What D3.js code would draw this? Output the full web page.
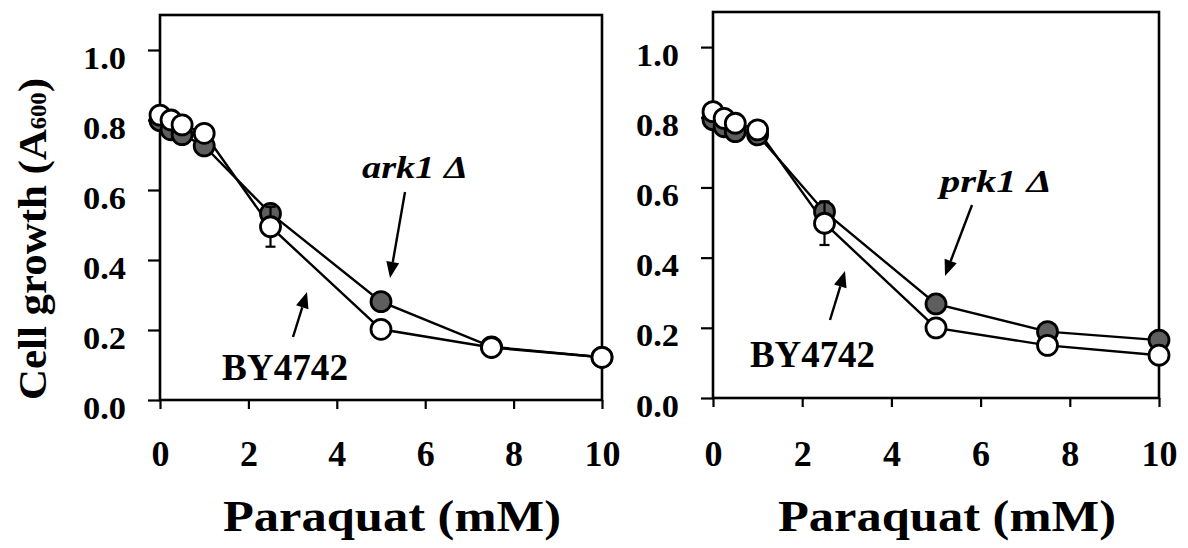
<!DOCTYPE html>
<html>
<head>
<meta charset="utf-8">
<script src="https://cdn.jsdelivr.net/npm/d3@7/dist/d3.min.js"></script>
<style>
  html, body { margin: 0; padding: 0; background: #fff; }
  svg { display: block; }
  text { font-family: "Liberation Serif", "Times New Roman", serif; font-weight: bold; fill: #000; }
</style>
</head>
<body>
<svg id="chart" width="1188" height="548"></svg>
<script>
// ---------- data ----------
const paraquat = [0, 0.25, 0.5, 1, 2.5, 5, 7.5, 10];
const xTickValues = [0, 2, 4, 6, 8, 10];
const yTickValues = [0, 0.2, 0.4, 0.6, 0.8, 1.0];

const leftBY4742 = [0.814, 0.800, 0.786, 0.762, 0.495, 0.202, 0.150, 0.122];
const leftBY4742Err = [0, 0, 0, 0, 0.057, 0, 0, 0];
const leftArk1 = [0.798, 0.772, 0.758, 0.726, 0.533, 0.281, 0.152, 0.122];
const leftArk1Err = [0, 0, 0, 0, 0.02, 0.02, 0, 0];

const rightBY4742 = [0.816, 0.797, 0.783, 0.764, 0.498, 0.200, 0.150, 0.122];
const rightBY4742Err = [0, 0, 0, 0, 0.062, 0, 0, 0];
const rightPrk1 = [0.793, 0.773, 0.759, 0.750, 0.531, 0.268, 0.189, 0.165];
const rightPrk1Err = [0, 0, 0, 0, 0.028, 0, 0, 0];

const xLabel = "Paraquat (mM)";
const yLabelMain = "Cell growth (A";
const yLabelSub = "600";
const strainWT = "BY4742";

// ---------- layout ----------
const svg = d3.select("#chart");
const FILLED = "#5e5e5e";
const SERIF = "'Liberation Serif', 'Times New Roman', serif";

const panels = [
  {
    left: 160, right: 602, bottom: 400, top: 15,
    mutant: leftArk1, mutantErr: leftArk1Err, wt: leftBY4742, wtErr: leftBY4742Err,
    mutantName: "ark1", mutLabel: {x: 362, y: 178, w: 106},
    mutArrow: {x1: 405, y1: 192, x2: 390, y2: 278},
    wtLabel: {x: 222, y: 380, w: 126},
    wtArrow: {x1: 293, y1: 337, x2: 307, y2: 292},
    yLabelRight: 126, xLabelCenter: 392
  },
  {
    left: 713, right: 1159, bottom: 398, top: 12,
    mutant: rightPrk1, mutantErr: rightPrk1Err, wt: rightBY4742, wtErr: rightBY4742Err,
    mutantName: "prk1", mutLabel: {x: 940, y: 192, w: 112},
    mutArrow: {x1: 972, y1: 205, x2: 945, y2: 276},
    wtLabel: {x: 750, y: 367, w: 125},
    wtArrow: {x1: 830, y1: 320, x2: 845, y2: 271},
    yLabelRight: 679, xLabelCenter: 947
  }
];

function arrow(g, a) {
  const dx = a.x2 - a.x1, dy = a.y2 - a.y1;
  const len = Math.hypot(dx, dy);
  const ux = dx / len, uy = dy / len;
  const hl = 16, hw = 6.5;
  const bx = a.x2 - ux * hl, by = a.y2 - uy * hl;
  g.append("line")
    .attr("x1", a.x1).attr("y1", a.y1).attr("x2", bx).attr("y2", by)
    .attr("stroke", "#000").attr("stroke-width", 2.4);
  g.append("path")
    .attr("d", `M${a.x2},${a.y2} L${bx - uy * hw},${by + ux * hw} L${bx + uy * hw},${by - ux * hw} Z`)
    .attr("fill", "#000");
}

panels.forEach(p => {
  const x = d3.scaleLinear().domain([0, 10]).range([p.left, p.right]);
  const y = d3.scaleLinear().domain([0, 1.1]).range([p.bottom, p.top]);
  const g = svg.append("g");

  // frame
  g.append("rect")
    .attr("x", p.left).attr("y", p.top)
    .attr("width", p.right - p.left).attr("height", p.bottom - p.top)
    .attr("fill", "none").attr("stroke", "#000").attr("stroke-width", 2.6);

  // x axis ticks
  const xAxis = d3.axisBottom(x).tickValues(xTickValues).tickSize(9).tickFormat(d3.format("d"));
  const gx = g.append("g").attr("transform", `translate(0,${p.bottom})`).call(xAxis);
  gx.attr("font-family", SERIF);
  gx.select(".domain").remove();
  gx.selectAll(".tick line").attr("stroke", "#000").attr("stroke-width", 2.2);
  gx.selectAll(".tick text")
    .attr("y", 0).attr("dy", 0)
    .attr("transform", `translate(0,${466 - p.bottom})`)
    .style("font-size", "36px")
    .style("font-family", SERIF).style("font-weight", "bold")
    .attr("fill", "#000");

  // y axis ticks
  const yAxis = d3.axisLeft(y).tickValues(yTickValues).tickSize(12).tickFormat(d3.format(".1f"));
  const gy = g.append("g").attr("transform", `translate(${p.left},0)`).call(yAxis);
  gy.attr("font-family", SERIF);
  gy.select(".domain").remove();
  gy.selectAll(".tick line").attr("stroke", "#000").attr("stroke-width", 2.2);
  gy.selectAll(".tick text")
    .attr("x", p.yLabelRight - p.left).attr("dy", "18px")
    .attr("text-anchor", "end")
    .attr("textLength", 43).attr("lengthAdjust", "spacingAndGlyphs")
    .style("font-size", "32px")
    .style("font-family", SERIF).style("font-weight", "bold")
    .attr("fill", "#000");

  // x label
  g.append("text")
    .attr("x", p.xLabelCenter - 169).attr("y", 531)
    .attr("textLength", 338).attr("lengthAdjust", "spacingAndGlyphs")
    .style("font-size", "44px")
    .text(xLabel);

  const line = d3.line().x((d, i) => x(paraquat[i])).y(d => y(d));

  const series = [
    {vals: p.mutant, err: p.mutantErr, fill: FILLED},
    {vals: p.wt, err: p.wtErr, fill: "#fff"}
  ];

  series.forEach(s => {
    g.append("path").datum(s.vals)
      .attr("d", line).attr("fill", "none")
      .attr("stroke", "#000").attr("stroke-width", 2.4);
  });

  series.forEach(s => {
    const eg = g.append("g");
    s.vals.forEach((v, i) => {
      const e = s.err[i];
      if (!e) return;
      const cx = x(paraquat[i]);
      eg.append("line").attr("x1", cx).attr("x2", cx)
        .attr("y1", y(v - e)).attr("y2", y(v + e))
        .attr("stroke", "#000").attr("stroke-width", 2.2);
      [v - e, v + e].forEach(t => {
        eg.append("line").attr("x1", cx - 5).attr("x2", cx + 5)
          .attr("y1", y(t)).attr("y2", y(t))
          .attr("stroke", "#000").attr("stroke-width", 2.2);
      });
    });
    g.append("g").selectAll("circle").data(s.vals).join("circle")
      .attr("cx", (d, i) => x(paraquat[i]))
      .attr("cy", d => y(d))
      .attr("r", 10)
      .attr("fill", s.fill)
      .attr("stroke", "#000").attr("stroke-width", 2.8);
  });

  // annotations
  const mt = g.append("text")
    .attr("x", p.mutLabel.x).attr("y", p.mutLabel.y)
    .attr("textLength", p.mutLabel.w).attr("lengthAdjust", "spacingAndGlyphs")
    .style("font-size", "31px").style("font-style", "italic");
  mt.append("tspan").text(p.mutantName + " ");
  mt.append("tspan").text("Δ");
  arrow(g, p.mutArrow);

  g.append("text")
    .attr("x", p.wtLabel.x).attr("y", p.wtLabel.y)
    .attr("textLength", p.wtLabel.w).attr("lengthAdjust", "spacingAndGlyphs")
    .style("font-size", "37px")
    .text(strainWT);
  arrow(g, p.wtArrow);
});

// y axis title
const yt = svg.append("text")
  .attr("transform", "translate(46,400) rotate(-90)")
  .attr("x", 0).attr("y", 0)
  .attr("textLength", 322).attr("lengthAdjust", "spacingAndGlyphs")
  .style("font-size", "40px");
yt.append("tspan").text(yLabelMain);
yt.append("tspan").style("font-size", "23px").text(yLabelSub);
yt.append("tspan").text(")");
</script>
</body>
</html>
